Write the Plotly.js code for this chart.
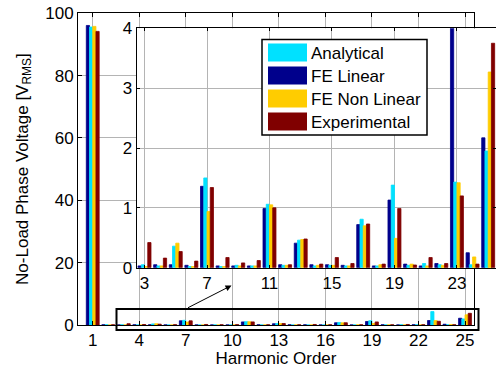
<!DOCTYPE html>
<html>
<head>
<meta charset="utf-8">
<script src="https://cdn.plot.ly/plotly-3.0.1.min.js"></script>
<style>html,body{margin:0;padding:0;background:#fff;}#chart{width:496px;height:368px;}</style>
</head>
<body>
<div id="chart"></div>
<script>
// ---------- data (main chart, harmonics 1..25) ----------
const harmonics = [1,2,3,4,5,6,7,8,9,10,11,12,13,14,15,16,17,18,19,20,21,22,23,24,25];
const analytical   = [95.6,0.05,0.05,0.03,0.36,0.02,1.50,0.02,0.04,0.03,1.06,0.04,0.46,0.03,0.04,0.03,0.81,0.03,1.38,0.04,0.07,0.05,4.30,0.05,1.95];
const feLinear     = [96.1,0.05,0.03,0.05,0.05,0.04,1.36,0.03,0.03,0.03,0.99,0.05,0.41,0.05,0.05,0.04,0.72,0.03,1.13,0.06,0.03,0.07,1.44,0.25,2.17];
const feNonLinear  = [95.8,0.04,0.02,0.03,0.41,0.02,0.94,0.02,0.03,0.03,1.05,0.04,0.47,0.04,0.04,0.03,0.70,0.05,0.49,0.06,0.03,0.04,1.42,0.18,3.27];
const experimental = [94.2,0.05,0.42,0.16,0.27,0.11,1.34,0.17,0.08,0.12,1.00,0.05,0.48,0.06,0.17,0.07,0.73,0.06,0.99,0.045,0.17,0.07,1.20,0.06,3.75];

// ---------- data (zoomed inset, harmonics 3..25) ----------
const insetHarmonics = [3,4,5,6,7,8,9,10,11,12,13,14,15,16,17,18,19,20,21,22,23,24,25];
const insetAnalytical   = [0.05,0.03,0.36,0.02,1.50,0.02,0.04,0.03,1.06,0.04,0.46,0.03,0.04,0.03,0.81,0.03,1.38,0.04,0.07,0.05,1.43,0.05,1.95];
const insetFeLinear     = [0.03,0.05,0.05,0.04,1.36,0.03,0.03,0.03,0.99,0.05,0.41,0.05,0.05,0.04,0.72,0.03,1.13,0.06,0.03,0.07,4.50,0.25,2.17];
const insetFeNonLinear  = [0.02,0.03,0.41,0.02,0.94,0.02,0.03,0.03,1.05,0.04,0.47,0.04,0.04,0.03,0.70,0.05,0.49,0.06,0.03,0.04,1.42,0.18,3.27];
const insetExperimental = [0.42,0.16,0.27,0.11,1.34,0.17,0.08,0.12,1.00,0.05,0.48,0.06,0.17,0.07,0.73,0.06,0.99,0.045,0.17,0.07,1.20,0.06,3.75];

// ---------- tick labels ----------
const mainXTicks = [1,4,7,10,13,16,19,22,25];
const mainYTicks = [0,20,40,60,80,100];
const insetXTicks = [3,7,11,15,19,23];
const insetYTicks = [0,1,2,3,4];
const legendNames = ['Analytical','FE Linear','FE Non Linear','Experimental'];

// ---------- styles ----------
const colors = {
  'Analytical': 'rgb(0,225,255)',
  'FE Linear': 'rgb(0,0,140)',
  'FE Non Linear': 'rgb(255,204,0)',
  'Experimental': 'rgb(128,0,0)'
};
const W = 496, H = 368;
const px = x => x / W;
const py = y => 1 - y / H;
const FONT = 'Liberation Sans, Arial, Helvetica, sans-serif';
const GRID = '#b4b4b4';

function bar(name, x, y, xa, ya) {
  return {
    type: 'bar', name: name, x: x, y: y, xaxis: xa, yaxis: ya,
    marker: {color: colors[name], line: {color: colors[name], width: 0.8}},
    showlegend: false, hoverinfo: 'x+y+name'
  };
}

const order = [['FE Linear', feLinear, insetFeLinear],
               ['Analytical', analytical, insetAnalytical],
               ['FE Non Linear', feNonLinear, insetFeNonLinear],
               ['Experimental', experimental, insetExperimental]];
const traces = [];
order.forEach(o => traces.push(bar(o[0], harmonics, o[1], 'x', 'y')));
order.forEach(o => traces.push(bar(o[0], insetHarmonics, o[2], 'x2', 'y2')));

const axisCommon = {
  showline: true, linecolor: '#000', linewidth: 1, mirror: 'ticks',
  ticks: 'inside', tickcolor: '#000', tickwidth: 1,
  showgrid: true, gridcolor: GRID, gridwidth: 1, zeroline: false,
  tickfont: {family: FONT, size: 17, color: '#000'}, tickmode: 'array'
};

const shapes = [
  // zoom rectangle
  {type: 'rect', xref: 'paper', yref: 'paper', x0: px(116.5), x1: px(478.5), y0: py(330), y1: py(309),
   line: {color: '#000', width: 2}, fillcolor: 'rgba(0,0,0,0)', layer: 'above'},
  // arrow shaft (head drawn by annotation below)
  // legend box
  {type: 'rect', xref: 'paper', yref: 'paper', x0: px(262), x1: px(427), y0: py(135), y1: py(39.5),
   line: {color: '#000', width: 1.5}, fillcolor: '#fff', layer: 'above'}
];
const annotations = [
  {xref: 'paper', yref: 'paper', x: px(231.5), y: py(285.5), ax: -45, ay: 23,
   text: '', showarrow: true, arrowhead: 2, arrowsize: 1.2, arrowwidth: 1, arrowcolor: '#000'}
];
legendNames.forEach((n, i) => {
  const top = 43.5 + i * 23;
  shapes.push({type: 'rect', xref: 'paper', yref: 'paper', x0: px(268), x1: px(307), y0: py(top + 18), y1: py(top),
    line: {width: 0}, fillcolor: colors[n], layer: 'above'});
  annotations.push({xref: 'paper', yref: 'paper', x: px(309), y: py(top + 9.5), xanchor: 'left', yanchor: 'middle',
    text: n, showarrow: false, font: {family: FONT, size: 17, color: '#000'}});
});

const layout = {
  width: W, height: H,
  margin: {l: 0, r: 0, t: 0, b: 0},
  paper_bgcolor: '#fff', plot_bgcolor: '#fff',
  barmode: 'group', bargap: 0.17, bargroupgap: 0,
  showlegend: false,
  font: {family: FONT, size: 17, color: '#000'},
  xaxis: Object.assign({}, axisCommon, {
    domain: [px(78), px(474)], range: [0.05, 25.58], tickvals: mainXTicks, ticktext: mainXTicks.map(String),
    ticklen: 4, anchor: 'y',
    title: {text: 'Harmonic Order', font: {family: FONT, size: 17, color: '#000'}, standoff: 2}
  }),
  yaxis: Object.assign({}, axisCommon, {
    domain: [py(325), py(13.3)], range: [0, 100], tickvals: mainYTicks, ticktext: mainYTicks.map(String),
    ticklen: 4, anchor: 'x',
    title: {text: 'No-Load Phase Voltage [V<sub>RMS</sub>]', font: {family: FONT, size: 17, color: '#000'}, standoff: 12}
  }),
  xaxis2: Object.assign({}, axisCommon, {
    domain: [px(136.7), 1], range: [2.5, 25.5], tickvals: insetXTicks, ticktext: insetXTicks.map(String),
    ticklen: 3, anchor: 'y2'
  }),
  yaxis2: Object.assign({}, axisCommon, {
    domain: [py(267.7), py(28.3)], range: [0, 4], tickvals: insetYTicks, ticktext: insetYTicks.map(String),
    ticklen: 3, anchor: 'x2'
  }),
  shapes: shapes,
  annotations: annotations
};

Plotly.newPlot('chart', traces, layout, {displayModeBar: false, staticPlot: true});
</script>
</body>
</html>
